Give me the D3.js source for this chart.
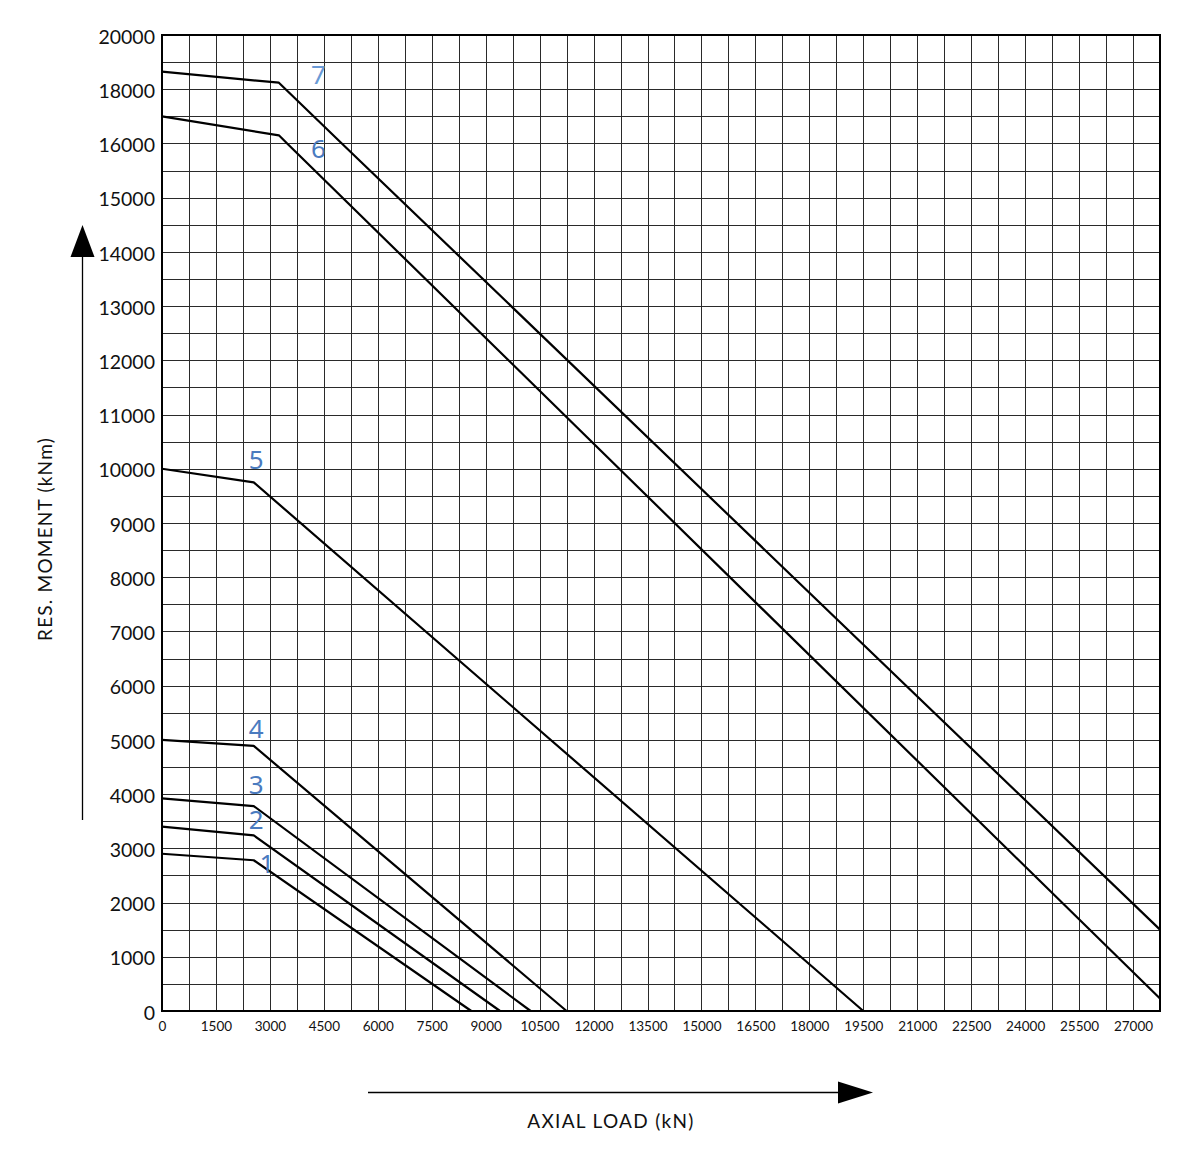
<!DOCTYPE html>
<html>
<head>
<meta charset="utf-8">
<script src="https://cdn.jsdelivr.net/npm/d3@7/dist/d3.min.js"></script>
<style>
  html, body { margin: 0; padding: 0; background: #fff; }
  svg { display: block; }
  text { font-family: Lato, "Open Sans", sans-serif; }
</style>
</head>
<body>
<svg id="chart" width="1198" height="1169"></svg>
<script>
// ---------- data ----------
const xTickLabels = [0,1500,3000,4500,6000,7500,9000,10500,12000,13500,15000,16500,18000,19500,21000,22500,24000,25500,27000];
const yTickLabels = [0,1000,2000,3000,4000,5000,6000,7000,8000,9000,10000,11000,12000,13000,14000,15000,16000,18000,20000];
const xGridValues = d3.range(0, 27751, 750);
const yGridValues = d3.range(0, 16001, 500).concat([17000, 18000, 19000, 20000]);

const curve1 = [[0,2900],[2550,2780],[8600,0]];
const curve2 = [[0,3400],[2550,3240],[9400,0]];
const curve3 = [[0,3920],[2550,3780],[10250,0]];
const curve4 = [[0,5000],[2550,4890],[11250,0]];
const curve5 = [[0,10000],[2550,9750],[19500,0]];
const curve6 = [[0,17000],[3250,16300],[3480,16000],[27750,230]];
const curve7 = [[0,18650],[3250,18240],[5000,16000],[27750,1500]];
const curves = [curve1, curve2, curve3, curve4, curve5, curve6, curve7];

const curveNames = ["1","2","3","4","5","6","7"];
const curveLabelX = [2920, 2620, 2620, 2620, 2620, 4350, 4350];
const curveLabelY = [2720, 3520, 4180, 5210, 10170, 15910, 18530];

// ---------- layout ----------
const svg = d3.select("#chart");
const mLeft = 162, mRight = 1160, mTop = 35, mBottom = 1011;
const rowH = (mBottom - mTop) / 36;

const x = d3.scaleLinear().domain([0, 27750]).range([mLeft, mRight]);
// y axis: 500 per grid row up to 16000, then 1000 per row to 20000
const y = d3.scaleLinear().domain([0, 16000, 20000]).range([mBottom, mBottom - 32 * rowH, mTop]);

// ---------- grid ----------
const grid = svg.append("g").attr("shape-rendering", "crispEdges");
grid.selectAll("line.v").data(xGridValues).join("line")
  .attr("class", "v")
  .attr("x1", d => Math.round(x(d)) + 0.5).attr("x2", d => Math.round(x(d)) + 0.5)
  .attr("y1", mTop).attr("y2", mBottom)
  .attr("stroke", "#2a2a2a").attr("stroke-width", 1);
grid.selectAll("line.h").data(yGridValues).join("line")
  .attr("class", "h")
  .attr("y1", d => Math.round(y(d)) + 0.5).attr("y2", d => Math.round(y(d)) + 0.5)
  .attr("x1", mLeft).attr("x2", mRight)
  .attr("stroke", "#2a2a2a").attr("stroke-width", 1);

// frame
svg.append("rect")
  .attr("x", mLeft).attr("y", mTop)
  .attr("width", mRight - mLeft).attr("height", mBottom - mTop)
  .attr("fill", "none").attr("stroke", "#000").attr("stroke-width", 2);

// ---------- axes ----------
const xAxis = svg.append("g")
  .attr("transform", `translate(0,${mBottom})`)
  .call(d3.axisBottom(x).tickValues(xTickLabels).tickSize(0).tickPadding(10).tickFormat(d => String(d)));
xAxis.select(".domain").remove();
xAxis.selectAll("text").attr("font-size", 13.5).attr("fill", "#111")
  .style("font-family", "Lato, sans-serif");

const yAxis = svg.append("g")
  .attr("transform", `translate(${mLeft},0)`)
  .call(d3.axisLeft(y).tickValues(yTickLabels).tickSize(0).tickPadding(7).tickFormat(d => String(d)));
yAxis.select(".domain").remove();
yAxis.selectAll("text").attr("font-size", 19.5).attr("fill", "#111")
  .attr("dy", "0.42em")
  .style("font-family", "Lato, sans-serif");

// ---------- curves ----------
const line = d3.line().x(d => x(d[0])).y(d => y(d[1]));
svg.append("g").selectAll("path").data(curves).join("path")
  .attr("d", line)
  .attr("fill", "none")
  .attr("stroke", "#000")
  .attr("stroke-width", 2.2)
  .attr("stroke-linejoin", "round");

// curve numbers
svg.append("g").selectAll("text").data(curveNames).join("text")
  .attr("x", (d, i) => x(curveLabelX[i]))
  .attr("y", (d, i) => y(curveLabelY[i]))
  .attr("text-anchor", "middle")
  .attr("dy", "0.36em")
  .attr("font-size", 26)
  .attr("fill", (d, i) => i === 6 ? "#6a9ad6" : "#4a7bbf")
  .style("font-family", "'Noto Sans', 'Open Sans', sans-serif")
  .text(d => d);

// ---------- axis titles & arrows ----------
svg.append("text")
  .attr("transform", "translate(52,539) rotate(-90)")
  .attr("text-anchor", "middle")
  .attr("font-size", 19)
  .attr("letter-spacing", 1.2)
  .attr("fill", "#111")
  .text("RES. MOMENT (kNm)");

svg.append("text")
  .attr("x", 611).attr("y", 1128)
  .attr("text-anchor", "middle")
  .attr("font-size", 19)
  .attr("letter-spacing", 1.3)
  .attr("fill", "#111")
  .text("AXIAL LOAD (kN)");

// vertical arrow
svg.append("line").attr("x1", 82.5).attr("x2", 82.5).attr("y1", 256).attr("y2", 820)
  .attr("stroke", "#000").attr("stroke-width", 1.3);
svg.append("path").attr("d", "M82.5,225 L94.5,257 L70.5,257 Z").attr("fill", "#000");

// horizontal arrow
svg.append("line").attr("x1", 368).attr("x2", 840).attr("y1", 1092.5).attr("y2", 1092.5)
  .attr("stroke", "#000").attr("stroke-width", 1.3);
svg.append("path").attr("d", "M873,1092.5 L838,1081.5 L838,1103.5 Z").attr("fill", "#000");
</script>
</body>
</html>
